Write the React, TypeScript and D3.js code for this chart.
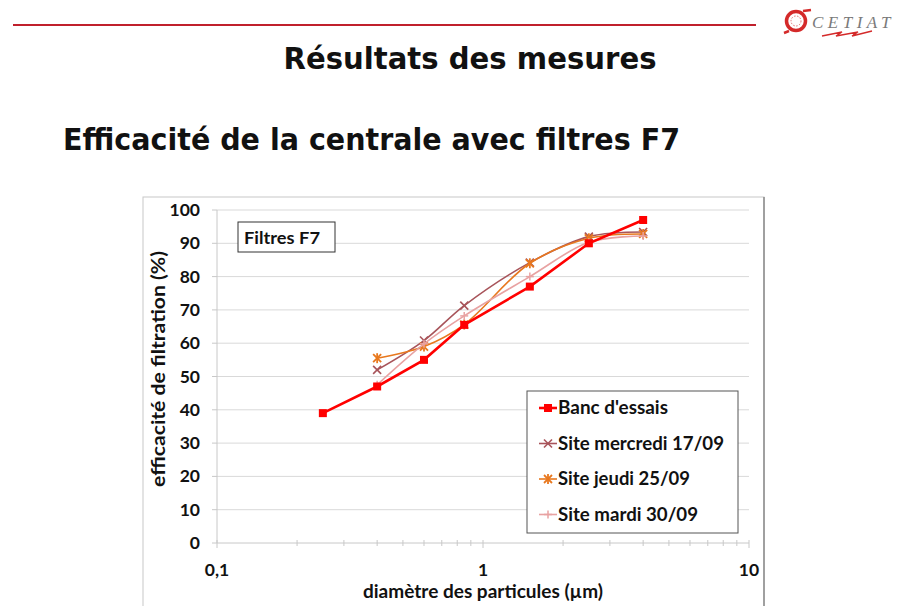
import React from "react";
import * as d3 from "d3";

const diameters = [0.25, 0.4, 0.6, 0.85, 1.5, 2.5, 4];
const bancValues = [39, 47, 55, 65.5, 77, 90, 97];
const siteDiameters = [0.4, 0.6, 0.85, 1.5, 2.5, 4];
const mercrediValues = [52, 60.8, 71.3, 84.2, 92, 93.4];
const jeudiValues = [55.5, 59, 65.6, 84, 91.5, 92.8];
const mardiValues = [47.5, 59.8, 68.2, 80, 90.3, 92.2];
const yTicks = [0, 10, 20, 30, 40, 50, 60, 70, 80, 90, 100];
const xTickLabels = [
  { v: 0.1, label: "0,1" },
  { v: 1, label: "1" },
  { v: 10, label: "10" },
];
const seriesNames = ["Banc d'essais", "Site mercredi 17/09", "Site jeudi 25/09", "Site mardi 30/09"];

const W = 921;
const H = 606;
const font = "Lato, 'Open Sans', sans-serif";

type Series = { name: string; xs: number[]; ys: number[]; color: string; width: number; marker: string; curve: any };

const series: Series[] = [
  { name: seriesNames[1], xs: siteDiameters, ys: mercrediValues, color: "#a8545a", width: 1.6, marker: "x", curve: d3.curveCatmullRom.alpha(0.5) },
  { name: seriesNames[2], xs: siteDiameters, ys: jeudiValues, color: "#e8781e", width: 1.6, marker: "star", curve: d3.curveCatmullRom.alpha(0.5) },
  { name: seriesNames[3], xs: siteDiameters, ys: mardiValues, color: "#e8a2a2", width: 1.6, marker: "plus", curve: d3.curveCatmullRom.alpha(0.5) },
  { name: seriesNames[0], xs: diameters, ys: bancValues, color: "#ff0000", width: 2.6, marker: "square", curve: d3.curveLinear },
];

function Marker({ type, cx, cy, color }: { type: string; cx: number; cy: number; color: string }) {
  const r = 4;
  if (type === "square")
    return <rect x={cx - 4} y={cy - 4} width={8} height={8} fill={color} />;
  if (type === "x")
    return (
      <g stroke={color} strokeWidth={1.6}>
        <line x1={cx - r} y1={cy - r} x2={cx + r} y2={cy + r} />
        <line x1={cx - r} y1={cy + r} x2={cx + r} y2={cy - r} />
      </g>
    );
  if (type === "star")
    return (
      <g stroke={color} strokeWidth={1.8}>
        <line x1={cx - r} y1={cy - r} x2={cx + r} y2={cy + r} />
        <line x1={cx - r} y1={cy + r} x2={cx + r} y2={cy - r} />
        <line x1={cx} y1={cy - r - 1} x2={cx} y2={cy + r + 1} />
      </g>
    );
  return (
    <g stroke={color} strokeWidth={1.5}>
      <line x1={cx - r} y1={cy} x2={cx + r} y2={cy} />
      <line x1={cx} y1={cy - r} x2={cx} y2={cy + r} />
    </g>
  );
}

const legendWidths = [110, 166, 132, 140];

export default function App() {
  const x = d3.scaleLog().domain([0.1, 10]).range([217, 749]);
  const y = d3.scaleLinear().domain([0, 100]).range([543, 210]);
  const minor: number[] = [];
  for (const dec of [0.1, 1]) for (let k = 2; k <= 9; k++) minor.push(dec * k);

  const legendOrder = [series[3], series[0], series[1], series[2]];

  return (
    <svg width={W} height={H} style={{ position: "absolute", left: 0, top: 0, background: "#fff" }}>
      {/* header line */}
      <line x1={13} y1={25} x2={756} y2={25} stroke="#c0202c" strokeWidth={2} />
      {/* logo */}
      <g>
        <circle cx={796} cy={21} r={9.5} fill="none" stroke="#d42a2a" strokeWidth={3.5} />
        <circle cx={796} cy={21} r={5} fill="none" stroke="#e07070" strokeWidth={1} strokeDasharray="1.5 1.5" />
        <path d="M 803 11 L 811 10 M 789 31 L 784 33" stroke="#d42a2a" strokeWidth={2.5} fill="none" />
        <text x={812} y={28} fontFamily="'Liberation Serif', serif" fontStyle="italic" fontSize={17} fill="#7a7a7a" letterSpacing={4.5}>CETIAT</text>
        <path d="M 822 36 L 842 32 L 836 36 L 858 32 L 852 36 L 872 31" stroke="#d42a2a" strokeWidth={1.3} fill="none" />
      </g>
      {/* titles */}
      <text x={470} y={69} textAnchor="middle" fontFamily="'DejaVu Sans', sans-serif" fontWeight="bold" fontSize={30} fill="#111" textLength={373} lengthAdjust="spacingAndGlyphs">Résultats des mesures</text>
      <text x={63} y={150} fontFamily="'DejaVu Sans', sans-serif" fontWeight="bold" fontSize={30} fill="#111" textLength={617} lengthAdjust="spacingAndGlyphs">Efficacité de la centrale avec filtres F7</text>

      {/* chart frame */}
      <rect x={143} y={197} width={621} height={420} fill="#fff" stroke="#c8c8c8" strokeWidth={1} />
      <line x1={764} y1={197} x2={764} y2={606} stroke="#8a8a8a" strokeWidth={1.5} />

      {/* gridlines and y ticks */}
      {yTicks.map((t) => (
        <g key={t}>
          {t > 0 && <line x1={217} x2={749} y1={y(t)} y2={y(t)} stroke="#d9d9d9" strokeWidth={1} />}
          <line x1={212} x2={217} y1={y(t)} y2={y(t)} stroke="#c8c8c8" strokeWidth={1} />
          <text x={200} y={y(t) + 6} textAnchor="end" fontFamily={font} fontWeight="bold" fontSize={17.5} fill="#111">{t}</text>
        </g>
      ))}
      {/* axes */}
      <line x1={217} x2={217} y1={210} y2={543} stroke="#c8c8c8" strokeWidth={1} />
      <line x1={217} x2={749} y1={543} y2={543} stroke="#c8c8c8" strokeWidth={1} />
      {minor.map((v) => (
        <line key={v} x1={x(v)} x2={x(v)} y1={540} y2={546} stroke="#c8c8c8" strokeWidth={1} />
      ))}
      {xTickLabels.map((t) => (
        <g key={t.label}>
          <line x1={x(t.v)} x2={x(t.v)} y1={540} y2={548} stroke="#c8c8c8" strokeWidth={1} />
          <text x={x(t.v)} y={576} textAnchor="middle" fontFamily={font} fontWeight="bold" fontSize={17.5} fill="#111">{t.label}</text>
        </g>
      ))}
      <text x={483} y={598} textAnchor="middle" fontFamily={font} fontWeight="bold" fontSize={18} fill="#111" textLength={240} lengthAdjust="spacingAndGlyphs">diamètre des particules (µm)</text>
      <text transform={`translate(165,${369}) rotate(-90)`} textAnchor="middle" fontFamily={font} fontWeight="bold" fontSize={18.5} fill="#111" textLength={236} lengthAdjust="spacingAndGlyphs">efficacité de filtration (%)</text>

      {/* Filtres F7 box */}
      <rect x={238} y={222} width={97} height={30} fill="#fff" stroke="#333" strokeWidth={1} />
      <text x={244} y={244} fontFamily={font} fontWeight="bold" fontSize={17} fill="#111" textLength={76} lengthAdjust="spacingAndGlyphs">Filtres F7</text>

      {/* series */}
      {series.map((s) => {
        const pts: [number, number][] = s.xs.map((d, i) => [x(d), y(s.ys[i])]);
        const path = d3.line().curve(s.curve)(pts) || "";
        return (
          <g key={s.name}>
            <path d={path} fill="none" stroke={s.color} strokeWidth={s.width} />
            {pts.map((p, i) => (
              <Marker key={i} type={s.marker} cx={p[0]} cy={p[1]} color={s.color} />
            ))}
          </g>
        );
      })}

      {/* legend */}
      <rect x={527} y={391} width={211} height={142} fill="#fff" stroke="#555" strokeWidth={1} />
      {legendOrder.map((s, i) => {
        const cy = 408 + i * 35.5;
        return (
          <g key={s.name}>
            <line x1={539} x2={557} y1={cy} y2={cy} stroke={s.color} strokeWidth={s.width} />
            <Marker type={s.marker} cx={548} cy={cy} color={s.color} />
            <text x={558} y={cy + 6} fontFamily={font} fontWeight="bold" fontSize={18} fill="#111" textLength={legendWidths[i]} lengthAdjust="spacingAndGlyphs">{s.name}</text>
          </g>
        );
      })}
    </svg>
  );
}
